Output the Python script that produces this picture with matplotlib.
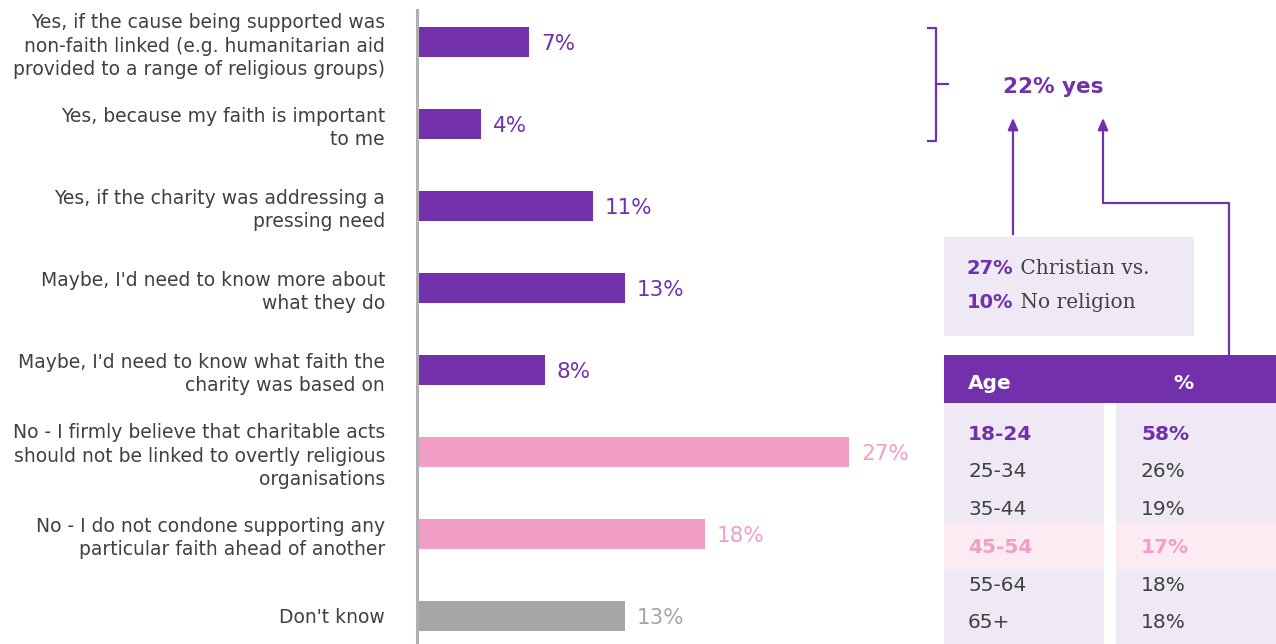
import matplotlib.pyplot as plt
from matplotlib.patches import Rectangle

plt.rcParams['font.family'] = ['DejaVu Sans']

# survey answers, top to bottom
answers = [
    "Yes, if the cause being supported was\nnon-faith linked (e.g. humanitarian aid\nprovided to a range of religious groups)",
    "Yes, because my faith is important\nto me",
    "Yes, if the charity was addressing a\npressing need",
    "Maybe, I'd need to know more about\nwhat they do",
    "Maybe, I'd need to know what faith the\ncharity was based on",
    "No - I firmly believe that charitable acts\nshould not be linked to overtly religious\norganisations",
    "No - I do not condone supporting any\nparticular faith ahead of another",
    "Don't know",
]
shares = [7, 4, 11, 13, 8, 27, 18, 13]
groups = ["yes", "yes", "yes", "maybe", "maybe", "no", "no", "dk"]

yes_total = 22
christian_yes = 27
no_religion_yes = 10

age_bands = ["18-24", "25-34", "35-44", "45-54", "55-64", "65+"]
age_yes = [58, 26, 19, 17, 18, 18]

PURPLE = "#7231aa"
PINK = "#f29ec6"
GREY = "#a6a6a6"
TEXT = "#404040"
LAVENDER = "#efe9f6"
PALE_PINK = "#fcebf3"
colours = {"yes": PURPLE, "maybe": PURPLE, "no": PINK, "dk": GREY}

W, H = 1276, 644
fig = plt.figure(figsize=(W / 100, H / 100), dpi=100)

# bar axes: left edge at x=417px, 16px per percentage point
ax_left, ax_top = 417, 10
ax_w = 16 * 40
ax = fig.add_axes([ax_left / W, 0, ax_w / W, (H - ax_top) / H])
ax.set_xlim(0, 40)
row_h = 82
first_row = 42
ax.set_ylim((H - first_row) / row_h, (ax_top - first_row) / row_h)
ax.patch.set_alpha(0)

pos = list(range(len(answers)))
bar_cols = [colours[g] for g in groups]
ax.barh(pos, shares, height=30 / row_h, color=bar_cols)
for p, v, c in zip(pos, shares, bar_cols):
    ax.text(v + 0.75, p, f"{v}%", color=c, fontsize=15.5, va="center_baseline", ha="left")

for s in ["top", "right", "bottom"]:
    ax.spines[s].set_visible(False)
ax.spines["left"].set_color("#b0b0b0")
ax.spines["left"].set_linewidth(2.2)
ax.set_xticks([])
ax.set_yticks(pos)
ax.set_yticklabels(answers, fontsize=13.5, color=TEXT, linespacing=1.29)
ax.tick_params(axis="y", length=0, pad=23)

# overlay in pixel coordinates for the side panel
ov = fig.add_axes([0, 0, 1, 1])
ov.set_xlim(0, W)
ov.set_ylim(H, 0)
ov.axis("off")
ov.patch.set_alpha(0)

# bracket around the "yes" answers
ov.plot([928, 936, 936, 928], [28, 28, 141, 141], color=PURPLE, lw=1.6)
ov.plot([936, 948], [84, 84], color=PURPLE, lw=1.6)
ov.text(1053, 85, f"{yes_total}% yes", color=PURPLE, fontsize=15.5,
        fontweight="bold", ha="center", va="center_baseline")

# arrows feeding into the total
arrow = dict(arrowstyle="-|>,head_length=0.7,head_width=0.3", color=PURPLE, lw=1.6)
ov.annotate("", xy=(1013, 115), xytext=(1013, 237), arrowprops=arrow)
ov.plot([1229, 1229, 1103], [355, 203, 203], color=PURPLE, lw=1.6)
ov.annotate("", xy=(1103, 115), xytext=(1103, 204), arrowprops=arrow)

# religion comparison box
ov.add_patch(Rectangle((944, 237), 250, 99, color=LAVENDER, lw=0))
renderer = fig.canvas.get_renderer()
for y, val, rest in [(274, christian_yes, " Christian vs."),
                     (308, no_religion_yes, " No religion")]:
    t = ov.text(967, y, f"{val}%", color=PURPLE, fontsize=14,
                fontweight="bold", va="baseline")
    w = t.get_window_extent(renderer).width
    ov.text(967 + w, y, rest, va="baseline", color=TEXT,
            fontsize=14.5, family="DejaVu Serif")

# age table
ov.add_patch(Rectangle((944, 355), W - 944, 48, color=PURPLE, lw=0))
ov.text(968, 381, "Age", color="white", fontsize=14.5, fontweight="bold",
        va="center_baseline")
ov.text(1183, 381, "%", color="white", fontsize=14.5, fontweight="bold",
        va="center_baseline", ha="center")
ov.add_patch(Rectangle((944, 403), 160, H - 403, color=LAVENDER, lw=0))
ov.add_patch(Rectangle((1116, 403), W - 1116, H - 403, color=LAVENDER, lw=0))

row0, step = 432, 37.8
for i, (band, pct) in enumerate(zip(age_bands, age_yes)):
    y = row0 + i * step
    col, weight = TEXT, "normal"
    if i == 0:
        col, weight = PURPLE, "bold"
    elif band == "45-54":
        col, weight = PINK, "bold"
        ov.add_patch(Rectangle((944, y - 22), 160, 47, color=PALE_PINK, lw=0))
        ov.add_patch(Rectangle((1116, y - 22), W - 1116, 47, color=PALE_PINK, lw=0))
    ov.text(968, y, band, color=col, fontsize=14.5, fontweight=weight,
            va="center_baseline")
    ov.text(1141, y, f"{pct}%", color=col, fontsize=14.5, fontweight=weight,
            va="center_baseline")

fig.savefig("out.png", dpi=100)
